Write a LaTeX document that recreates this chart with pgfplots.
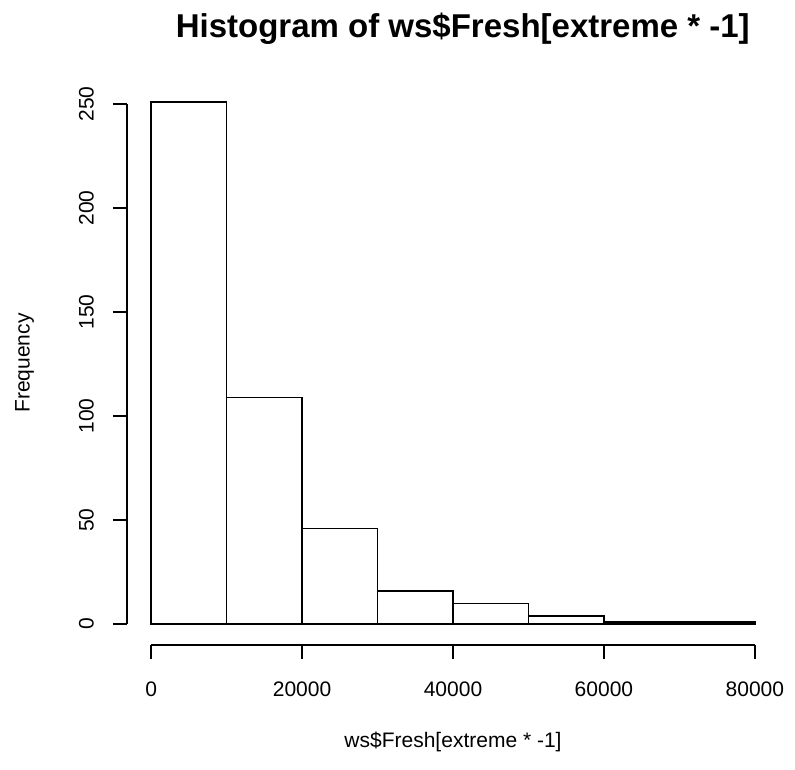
\documentclass[border=0pt]{standalone}
\usepackage{fontspec}
\setmainfont{Liberation Sans}
\usepackage{pgfplots}
\pgfplotsset{compat=1.18}

\begin{document}
\begin{tikzpicture}
    % page frame in px*0.5pt, origin at the plot region's lower left corner
    \useasboundingbox (-63.5pt,-62pt) rectangle (334pt,322.5pt);
    \begin{axis}[
        at={(0,0)}, anchor=south west,
        scale only axis,
        width=326pt, height=282pt,
        xmin=-3200, xmax=83200,
        ymin=-10.04, ymax=261.04,
        axis lines*=left,
        axis line style={draw=none},
        tick align=outside,
        major tick length=7pt,
        tick style={black, line width=0.75pt},
        xtick={0,20000,40000,60000,80000},
        ytick={0,50,100,150,200,250},
        scaled x ticks=false,
        xticklabel style={/pgf/number format/fixed, /pgf/number format/1000 sep={}},
        /pgf/number format/assume math mode=true,
        ticklabel style={font=\fontsize{10.5}{12}\selectfont},
        xticklabel shift=8pt,
        yticklabel style={rotate=90, anchor=south},
        yticklabel shift=6pt,
        clip=false,
        title={Histogram of ws\$Fresh[extreme * -1]},
        title style={font=\bfseries\fontsize{16.5}{18}\selectfont,
            at={(axis description cs:0.515,1)}, anchor=center, yshift=20pt},
        xlabel={ws\$Fresh[extreme * -1]},
        xlabel style={font=\fontsize{10.5}{12}\selectfont,
            at={(axis description cs:0.5,0)}, anchor=center, yshift=-48.5pt},
        ylabel={Frequency},
        ylabel style={font=\fontsize{10.5}{12}\selectfont,
            at={(axis description cs:-0.157,0.5)}, anchor=center},
    ]
        \addplot[ybar interval, fill=white, draw=black, line width=0.75pt] coordinates {
            (0, 251)
            (10000, 109)
            (20000, 46)
            (30000, 16)
            (40000, 10)
            (50000, 4)
            (60000, 1)
            (70000, 1)
            (80000, 1)
        };
        % R style axis lines, only over the tick range
        \draw[line width=0.75pt] (axis cs:0,-10.04) -- (axis cs:80000,-10.04);
        \draw[line width=0.75pt] (axis cs:-3200,0) -- (axis cs:-3200,250);
    \end{axis}
\end{tikzpicture}
\end{document}
